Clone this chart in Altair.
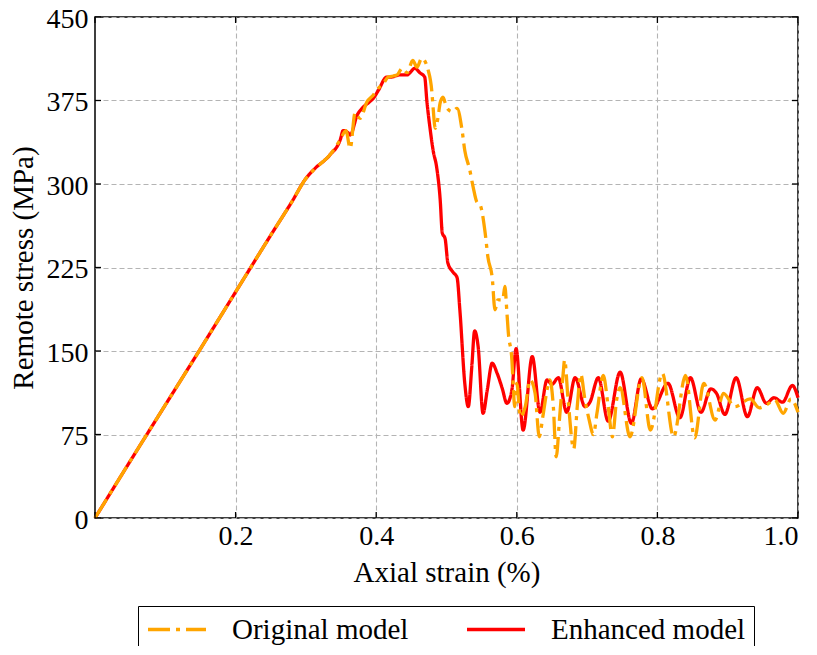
import altair as alt
import pandas as pd

# ---- data ----
series = ["Original model", "Enhanced model"]
colors = ["#FFA500", "#FF0000"]

orig_x = [0, 0.05, 0.1, 0.15, 0.2, 0.25, 0.28, 0.3, 0.315, 0.334, 0.342, 0.349, 0.357, 0.363, 0.370, 0.377,
          0.387, 0.396, 0.403, 0.410, 0.417, 0.424, 0.430, 0.437, 0.444, 0.452, 0.458,
          0.465, 0.474, 0.479, 0.481, 0.484, 0.488, 0.491, 0.495, 0.500, 0.508, 0.515,
          0.522, 0.526, 0.533, 0.538, 0.543, 0.548, 0.555, 0.559, 0.565, 0.569, 0.573,
          0.580, 0.583, 0.586, 0.588, 0.593, 0.595, 0.597, 0.600, 0.605, 0.612, 0.619,
          0.626, 0.632, 0.637, 0.644, 0.647, 0.652, 0.656, 0.661, 0.666, 0.668, 0.673,
          0.681, 0.686, 0.691, 0.697, 0.703, 0.709, 0.714, 0.723, 0.730, 0.736, 0.742,
          0.747, 0.761, 0.778, 0.790, 0.807, 0.823, 0.840, 0.853, 0.866, 0.882, 0.894,
          0.910, 0.932, 0.945, 0.956, 0.967, 0.979, 0.990, 1.0]
orig_y = [0, 51, 101.5, 152, 203, 254, 284, 305, 315, 326, 333, 340, 348, 332, 364, 359,
          374, 380, 386, 390, 396, 397, 398, 404, 400, 411, 405,
          413, 402, 384, 368, 350, 360, 373, 378, 369, 365, 368,
          349, 330, 313, 297, 284, 281, 256, 234, 216, 187, 196,
          196, 208, 184, 166, 142, 118, 100, 121, 91, 100, 124,
          112, 73, 91, 118, 124, 100, 55, 91, 130, 142, 106,
          62, 100, 129, 106, 88, 75, 94, 128, 100, 73, 106,
          117, 73, 126, 79, 130, 73, 128, 72, 121, 88, 112,
          100, 107, 99, 102, 106, 94, 107, 95]

enh_x = [0, 0.05, 0.1, 0.15, 0.2, 0.25, 0.28, 0.3, 0.313, 0.334, 0.349, 0.353, 0.360, 0.363, 0.373, 0.380,
         0.391, 0.396, 0.403, 0.415, 0.420, 0.434, 0.444, 0.448, 0.455, 0.462, 0.469,
         0.472, 0.477, 0.481, 0.486, 0.491, 0.494, 0.498, 0.502, 0.509, 0.515, 0.519,
         0.526, 0.531, 0.536, 0.540, 0.545, 0.552, 0.558, 0.565, 0.572, 0.579, 0.586,
         0.593, 0.599, 0.609, 0.622, 0.633, 0.643, 0.650, 0.659, 0.671, 0.683, 0.697,
         0.704, 0.716, 0.730, 0.747, 0.763, 0.777, 0.793, 0.815, 0.832, 0.847, 0.862,
         0.876, 0.884, 0.896, 0.912, 0.928, 0.942, 0.955, 0.966, 0.978, 0.992, 1.0]
enh_y = [0, 51, 101.5, 152, 203, 254, 284, 305, 314, 326, 340, 348, 346, 344, 362, 368,
         374, 377, 384, 396, 396, 398, 398, 400, 404, 400, 396,
         375, 348, 330, 315, 286, 256, 251, 229, 221, 216, 187,
         121, 100, 136, 168, 154, 94, 115, 139, 130, 117, 103,
         115, 152, 79, 145, 95, 124, 120, 126, 95, 126, 100,
         104, 126, 87, 131, 85, 125, 98, 121, 90, 126, 95,
         116, 112, 93, 126, 91, 117, 103, 108, 104, 119, 108]

y_ticks = [0, 75, 150, 225, 300, 375, 450]
x_ticks = [0.2, 0.4, 0.6, 0.8, 1.0]
x_frame_ticks = [0, 0.2, 0.4, 0.6, 0.8, 1.0]

FONT = "Liberation Serif"
W, H = 703, 501

df_o = pd.DataFrame({"x": orig_x, "y": orig_y, "model": series[0]})
df_e = pd.DataFrame({"x": enh_x, "y": enh_y, "model": series[1]})

xs = alt.Scale(domain=[0, 1], nice=False, zero=False)
ys = alt.Scale(domain=[0, 450], nice=False)

x_axis = alt.Axis(values=x_ticks, format=".1f", title="Axial strain (%)",
                  grid=True, ticks=False, domain=False, labelPadding=4, titlePadding=8)
y_axis = alt.Axis(values=y_ticks, title="Remote stress (MPa)",
                  grid=True, ticks=False, domain=False, labelPadding=7, labelOffset=2,
                  titlePadding=8)

legend = alt.Legend(
    title=None, orient="none", legendX=43, legendY=589, direction="horizontal",
    strokeColor="black", fillColor="white", padding=8, cornerRadius=0,
    symbolType="stroke", symbolSize=3364, symbolStrokeWidth=3.5, clipHeight=31,
    labelFont=FONT, labelFontSize=29, labelColor="black", labelOffset=24, labelLimit=500,
    columnPadding=56, symbolOpacity=1,
)

enc = dict(
    x=alt.X("x:Q", scale=xs, axis=x_axis),
    y=alt.Y("y:Q", scale=ys, axis=y_axis),
    color=alt.Color("model:N", scale=alt.Scale(domain=series, range=colors), legend=legend),
    strokeDash=alt.StrokeDash("model:N", scale=alt.Scale(domain=series, range=[[22, 6, 4, 6], [1, 0]]),
                              legend=legend),
)

line_e = alt.Chart(df_e).mark_line(strokeWidth=3.3, interpolate="monotone").encode(**enc)
line_o = alt.Chart(df_o).mark_line(strokeWidth=3.3, interpolate="monotone").encode(**enc)

yt = pd.DataFrame({"y": y_ticks})
xt = pd.DataFrame({"x": x_frame_ticks})
tick_style = dict(color="black", strokeWidth=1.3)
left_ticks = alt.Chart(yt).mark_rule(**tick_style).encode(
    y=alt.Y("y:Q", scale=ys, axis=y_axis), x=alt.value(0), x2=alt.value(6))
right_ticks = alt.Chart(yt).mark_rule(**tick_style).encode(
    y=alt.Y("y:Q", scale=ys, axis=y_axis), x=alt.value(W - 6), x2=alt.value(W))
bottom_ticks = alt.Chart(xt).mark_rule(**tick_style).encode(
    x=alt.X("x:Q", scale=xs, axis=x_axis), y=alt.value(H), y2=alt.value(H - 6))
top_ticks = alt.Chart(xt).mark_rule(**tick_style).encode(
    x=alt.X("x:Q", scale=xs, axis=x_axis), y=alt.value(0), y2=alt.value(6))

chart = alt.layer(line_e, line_o, left_ticks, right_ticks, bottom_ticks, top_ticks).properties(
    width=W, height=H, autosize="none", background="white",
    padding={"left": 87, "top": 9, "right": 6, "bottom": 128},
).configure_view(
    stroke="black", strokeWidth=1.5
).configure_axis(
    labelFont=FONT, labelFontSize=28, labelColor="black",
    titleFont=FONT, titleFontSize=29, titleColor="black", titleFontWeight="normal",
    gridColor="#b4b4b4", gridDash=[5, 3], gridWidth=1.1, gridOpacity=1,
)

chart.save("out.html", embed_options={"renderer": "svg", "actions": False})
